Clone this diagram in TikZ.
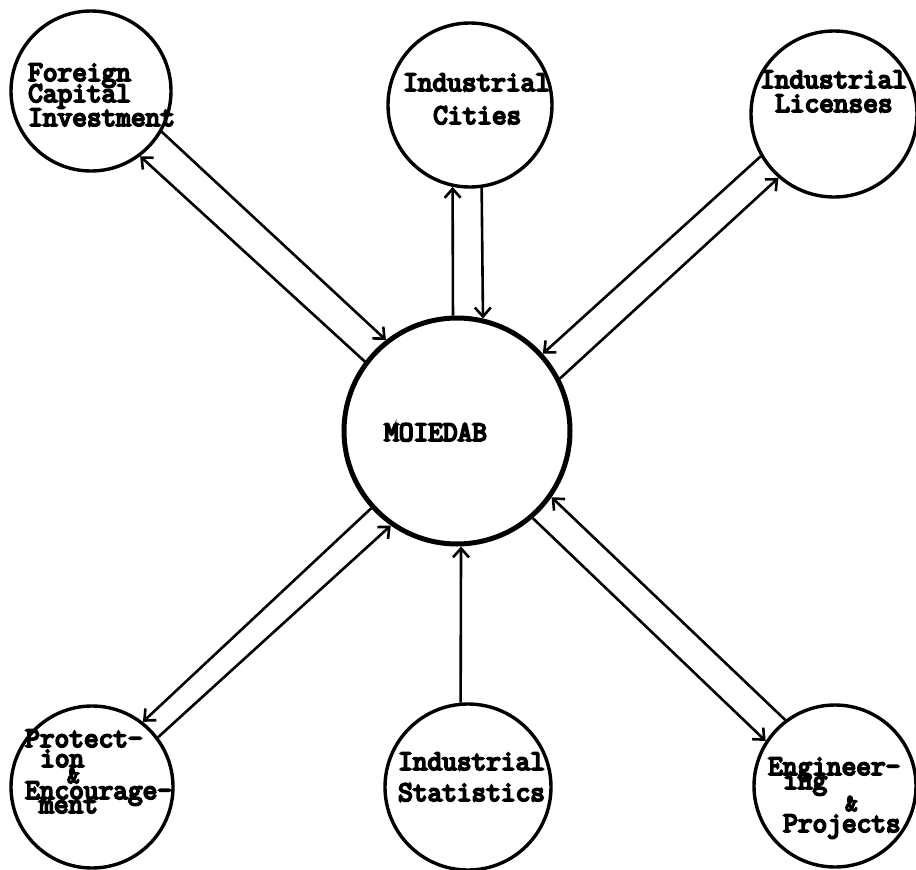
\documentclass[tikz,border=0pt]{standalone}
\usepackage{fontspec}
\newfontfamily\tw{Latin Modern Mono}[FakeBold=6.5]
\usetikzlibrary{arrows.meta}
\begin{document}
\begin{tikzpicture}[x=1pt,y=-1pt,
  circ/.style={draw,circle,line width=3.4pt,inner sep=0pt},
  hub/.style={draw,circle,line width=5pt,inner sep=0pt,minimum size=226pt},
  txt/.style={anchor=base west,inner sep=0pt,font=\tw\fontsize{28.5}{28.5}\selectfont},
  amp/.style={anchor=base west,inner sep=0pt,font=\tw\fontsize{24}{24}\selectfont},
  flow/.style={line width=2.6pt,-{Straight Barb[length=9pt,width=16pt,line width=2.6pt]}}]
\useasboundingbox (0,0) rectangle (916,870);
\fill[white] (0,0) rectangle (916,870);
% circles
\node[hub] (moi) at (457,431) {};
\node[circ,minimum size=160pt] (fci) at (91,91) {};
\node[circ,minimum size=164pt] (cit) at (470,105) {};
\node[circ,minimum size=166pt] (lic) at (834,114) {};
\node[circ,minimum size=162pt] (pro) at (92,787) {};
\node[circ,minimum size=166pt] (sta) at (468,787) {};
\node[circ,minimum size=162pt] (eng) at (835,786) {};
% texts
\node[txt] (moit) at (384,441) {MOIEDAB};
\node[txt] (fci1) at (28,81) {Foreign};
\node[txt] (fci2) at (28,102) {Capital};
\node[txt] (fci3) at (28,126) {Investment};
\node[txt] (cit1) at (403,91) {Industrial};
\node[txt] (cit2) at (433,124) {Cities};
\node[txt] (lic1) at (760,88) {Industrial};
\node[txt] (lic2) at (775,112) {Licenses};
\node[txt] (pro1) at (25,747) {Protect-};
\node[txt] (pro2) at (40,767) {ion};
\node[amp] (pro3) at (67,783) {\&};
\node[txt] (pro4) at (25,799) {Encourage-};
\node[txt] (pro5) at (39,813) {ment};
\node[txt] (sta1) at (398,770) {Industrial};
\node[txt] (sta2) at (398,801) {Statistics};
\node[txt] (eng1) at (768,775) {Engineer-};
\node[txt] (eng2) at (783,789) {ing};
\node[amp] (eng3) at (845,811) {\&};
\node[txt] (eng4) at (783,832) {Projects};
% connectors
\draw[flow] (fci.-30.7) -- (moi.128.2);
\draw[flow] (moi.143.5) -- (fci.-53);
\draw[flow] (moi.92) -- (cit.-102);
\draw[flow] (cit.-82.3) -- (moi.77.7);
\draw[flow] (lic.210) -- (moi.42.2);
\draw[flow] (moi.27.7) -- (lic.229.8);
\draw[flow] (moi.222.7) -- (pro.52.9);
\draw[flow] (pro.37.3) -- (moi.235.7);
\draw[flow] (sta.95.5) -- (moi.-88.5);
\draw[flow] (eng.127.4) -- (moi.-35.2);
\draw[flow] (moi.-49.7) -- (eng.147.1);
\end{tikzpicture}
\end{document}
